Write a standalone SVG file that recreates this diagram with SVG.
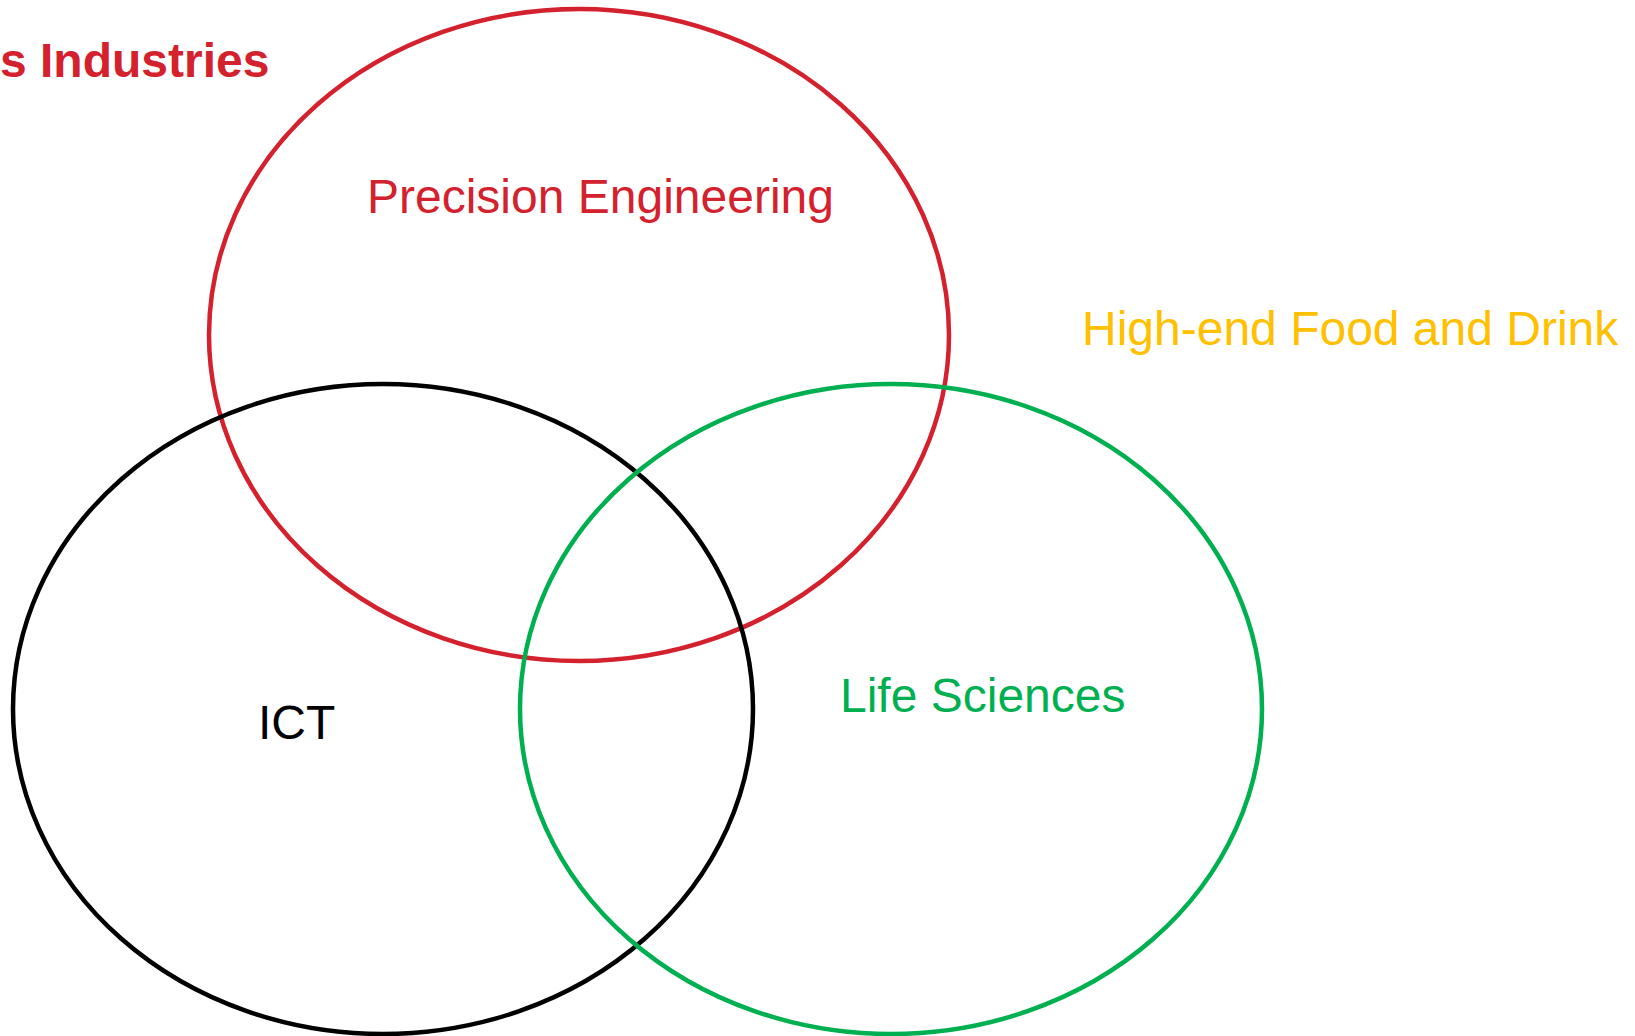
<svg xmlns="http://www.w3.org/2000/svg" width="1635" height="1036" viewBox="0 0 1635 1036">
<style>
.ring{fill:none;stroke-width:4.5}
.lbl{font-family:"Liberation Sans",Arial,sans-serif;font-size:48px}
</style>
<rect width="1635" height="1036" fill="#ffffff"/>
<g id="title"><text class="lbl" x="0" y="77" font-size="47" font-weight="bold" fill="#D4212E">s Industries</text></g>
<g id="precision-engineering">
<ellipse class="ring" cx="579" cy="335" rx="370" ry="326" stroke="#D4212E"/>
<text class="lbl" x="367" y="213" fill="#D4212E">Precision Engineering</text>
</g>
<g id="ict">
<ellipse class="ring" cx="383" cy="709" rx="370" ry="325" stroke="#000000"/>
<text class="lbl" x="258" y="739" fill="#000000">ICT</text>
</g>
<g id="life-sciences">
<ellipse class="ring" cx="891" cy="709" rx="371" ry="325" stroke="#00B050"/>
<text class="lbl" x="840" y="712" fill="#00B050">Life Sciences</text>
</g>
<g id="food-drink"><text class="lbl" x="1082" y="345" fill="#FFC000">High-end Food and Drink</text></g>
<g id="connectors"/>
</svg>
